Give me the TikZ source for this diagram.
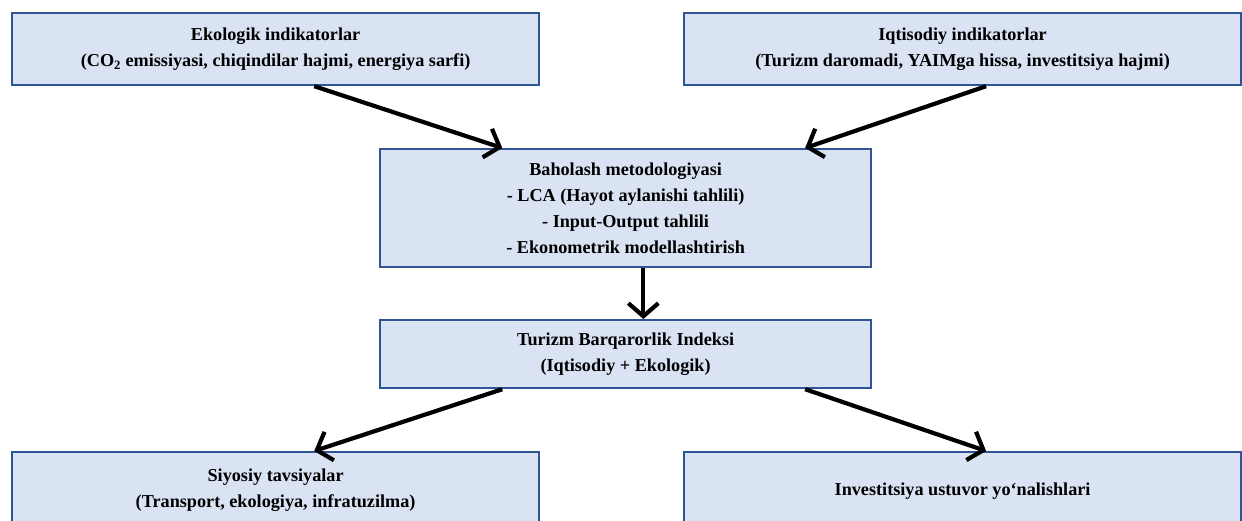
\documentclass[tikz,border=0pt]{standalone}
\usepackage{fontspec}
\setmainfont{Liberation Serif}
\usetikzlibrary{arrows.meta,calc}
\definecolor{boxfill}{HTML}{DAE3F3}
\definecolor{boxline}{HTML}{2F5597}
\tikzset{
  box/.style={draw=boxline, fill=boxfill, line width=2.2pt, align=center,
    font=\fontsize{18.2}{26}\selectfont\bfseries, inner sep=0pt, anchor=north west},
  conn/.style={line width=4.2pt, -{Straight Barb[length=13pt,width=30pt,line width=4.2pt]}}
}
\begin{document}
\begin{tikzpicture}[x=1pt,y=-1pt]
\clip (0,0) rectangle (1242,520);
\useasboundingbox (0,0) rectangle (1242,520);
\node[box, minimum width=527pt, minimum height=72pt] (eco) at (11,12)
  {Ekologik indikatorlar\\(CO\textsubscript{2} emissiyasi, chiqindilar hajmi, energiya sarfi)};
\node[box, minimum width=557pt, minimum height=72pt] (iqt) at (683,12)
  {Iqtisodiy indikatorlar\\(Turizm daromadi, YAIMga hissa, investitsiya hajmi)};
\node[box, minimum width=491pt, minimum height=118pt] (bah) at (379,148)
  {Baholash metodologiyasi\\- LCA (Hayot aylanishi tahlili)\\- Input-Output tahlili\\- Ekonometrik modellashtirish};
\node[box, minimum width=491pt, minimum height=68pt] (ind) at (379,319)
  {Turizm Barqarorlik Indeksi\\(Iqtisodiy + Ekologik)};
\node[box, minimum width=527pt, minimum height=76pt] (siy) at (11,451)
  {Siyosiy tavsiyalar\\(Transport, ekologiya, infratuzilma)};
\node[box, minimum width=557pt, minimum height=78pt] (inv) at (683,451)
  {Investitsiya ustuvor yo‘nalishlari};
\coordinate (a1s) at ($(eco.south west)!0.573!(eco.south east)$);
\coordinate (a1e) at ($(bah.north west)!0.25!(bah.north east)$);
\coordinate (a2s) at ($(iqt.south west)!0.542!(iqt.south east)$);
\coordinate (a2e) at ($(bah.north west)!0.864!(bah.north east)$);
\coordinate (a3s) at ($(bah.south west)!0.536!(bah.south east)$);
\coordinate (a3e) at ($(ind.north west)!0.536!(ind.north east)$);
\coordinate (a4s) at ($(ind.south west)!0.25!(ind.south east)$);
\coordinate (a4e) at ($(siy.north west)!0.573!(siy.north east)$);
\coordinate (a5s) at ($(ind.south west)!0.864!(ind.south east)$);
\coordinate (a5e) at ($(inv.north west)!0.542!(inv.north east)$);
\draw[conn] (a1s) -- (a1e);
\draw[conn] (a2s) -- (a2e);
\draw[conn] (a3s) -- (a3e);
\draw[conn] (a4s) -- (a4e);
\draw[conn] (a5s) -- (a5e);
\end{tikzpicture}
\end{document}
